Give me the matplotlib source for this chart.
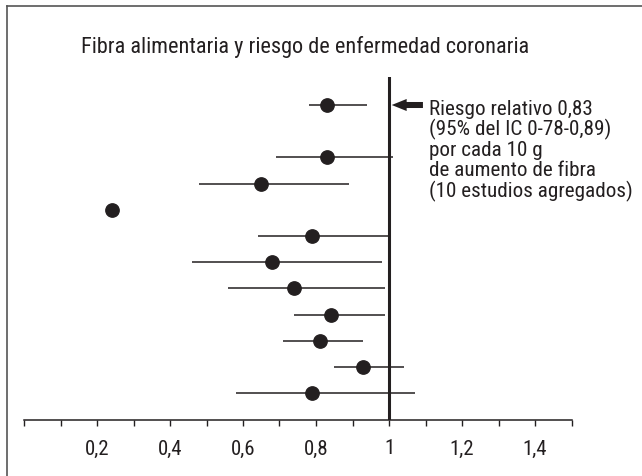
import matplotlib
matplotlib.use("Agg")
import os
import matplotlib.pyplot as plt
from matplotlib import font_manager
from matplotlib.font_manager import FontProperties
from matplotlib.lines import Line2D
from matplotlib.patches import FancyArrow


# look for a narrow / condensed sans face, the original uses one
def find_condensed():
    best = None
    for f in font_manager.fontManager.ttflist:
        base = os.path.basename(f.fname).lower()
        narrow = ("narrow" in f.name.lower() or "condensed" in f.name.lower()
                  or "condensed" in base or "narrow" in base
                  or f.stretch in ("condensed", "semi-condensed"))
        if not narrow or f.style != "normal" or f.weight not in (400, "normal", "regular"):
            continue
        if any(k in base for k in ("bold", "oblique", "italic", "light", "mono", "serif")):
            continue
        rank = 0 if "liberation" in base else 1 if "roboto" in base else 2
        if best is None or rank < best[0]:
            best = (rank, f.fname)
    return best[1] if best else None


CONDENSED = find_condensed()
plt.rcParams["font.family"] = ["Liberation Sans", "DejaVu Sans"]


def font(size):
    if CONDENSED:
        return FontProperties(fname=CONDENSED, size=size)
    return FontProperties(family=["Liberation Sans", "DejaVu Sans"], size=size * 0.87)


INK = "#231f20"

TITLE = "Fibra alimentaria y riesgo de enfermedad coronaria"
NOTE = [
    "Riesgo relativo 0,83",
    "(95% del IC 0-78-0,89)",
    "por cada 10 g",
    "de aumento de fibra",
    "(10 estudios agregados)",
]

# one row per study, top to bottom (row 1 left empty)
rows = [0, 2, 3, 4, 5, 6, 7, 8, 9, 10, 11]
rr = [0.83, 0.83, 0.65, 0.24, 0.79, 0.68, 0.74, 0.84, 0.81, 0.93, 0.79]
ci_low = [0.78, 0.69, 0.48, None, 0.64, 0.46, 0.56, 0.74, 0.71, 0.85, 0.58]
ci_high = [0.94, 1.01, 0.89, None, 1.00, 0.98, 0.99, 0.99, 0.93, 1.04, 1.07]

tick_vals = [i / 10 for i in range(16)]
tick_labels = ["0,2", "0,4", "0,6", "0,8", "1", "1,2", "1,4"]

W, H = 642, 477
fig = plt.figure(figsize=(W / 100, H / 100), dpi=100)
ax = fig.add_axes([24 / W, (H - 420.7) / H, 547.5 / W, 342.4 / H])
ax.set_xlim(0, 1.5)
ax.set_ylim(12.007, -1.057)

for r, lo, hi in zip(rows, ci_low, ci_high):
    if lo is not None:
        ax.hlines(r, lo, hi, color=INK, lw=1.1, zorder=2)
ax.plot(rr, rows, "o", color=INK, ms=9.6, zorder=3, linestyle="none")

ax.axvline(1.0, color=INK, lw=2.2, zorder=4)

# arrow pointing at the line of no effect
ax.add_patch(FancyArrow(1.093, 0, -0.0856, 0, width=0.23, head_width=0.46,
                        head_length=0.041, length_includes_head=True,
                        color=INK, lw=0, zorder=5))

for s in ["top", "right", "left"]:
    ax.spines[s].set_visible(False)
ax.spines["bottom"].set_color(INK)
ax.spines["bottom"].set_linewidth(1.1)
ax.set_yticks([])
ax.set_xticks(tick_vals)
lab = {round(v * 10): "" for v in tick_vals}
for i, t in enumerate(tick_labels):
    lab[2 * (i + 1)] = t
ax.set_xticklabels([lab[round(v * 10)] for v in tick_vals])
ax.tick_params(axis="x", direction="out", length=4.5, width=1.0, color=INK,
               labelcolor=INK, pad=9)
for t in ax.get_xticklabels():
    t.set_fontproperties(font(15))

fig.text(80.7 / W, 1 - 53.3 / H, TITLE, fontproperties=font(16), color=INK,
         va="baseline")
for i, line in enumerate(NOTE):
    fig.text(429 / W, 1 - (115 + 20.5 * i) / H, line, fontproperties=font(15.2),
             color=INK, va="baseline")

# frame cut off at the right and bottom
fig.add_artist(Line2D([7.3 / W, 1.0], [1 - 7 / H, 1 - 7 / H], color="#555555",
                      lw=1.2, transform=fig.transFigure))
fig.add_artist(Line2D([7.3 / W, 7.3 / W], [0, 1 - 7 / H], color="#555555",
                      lw=1.2, transform=fig.transFigure))

fig.savefig("out.png", dpi=100)
